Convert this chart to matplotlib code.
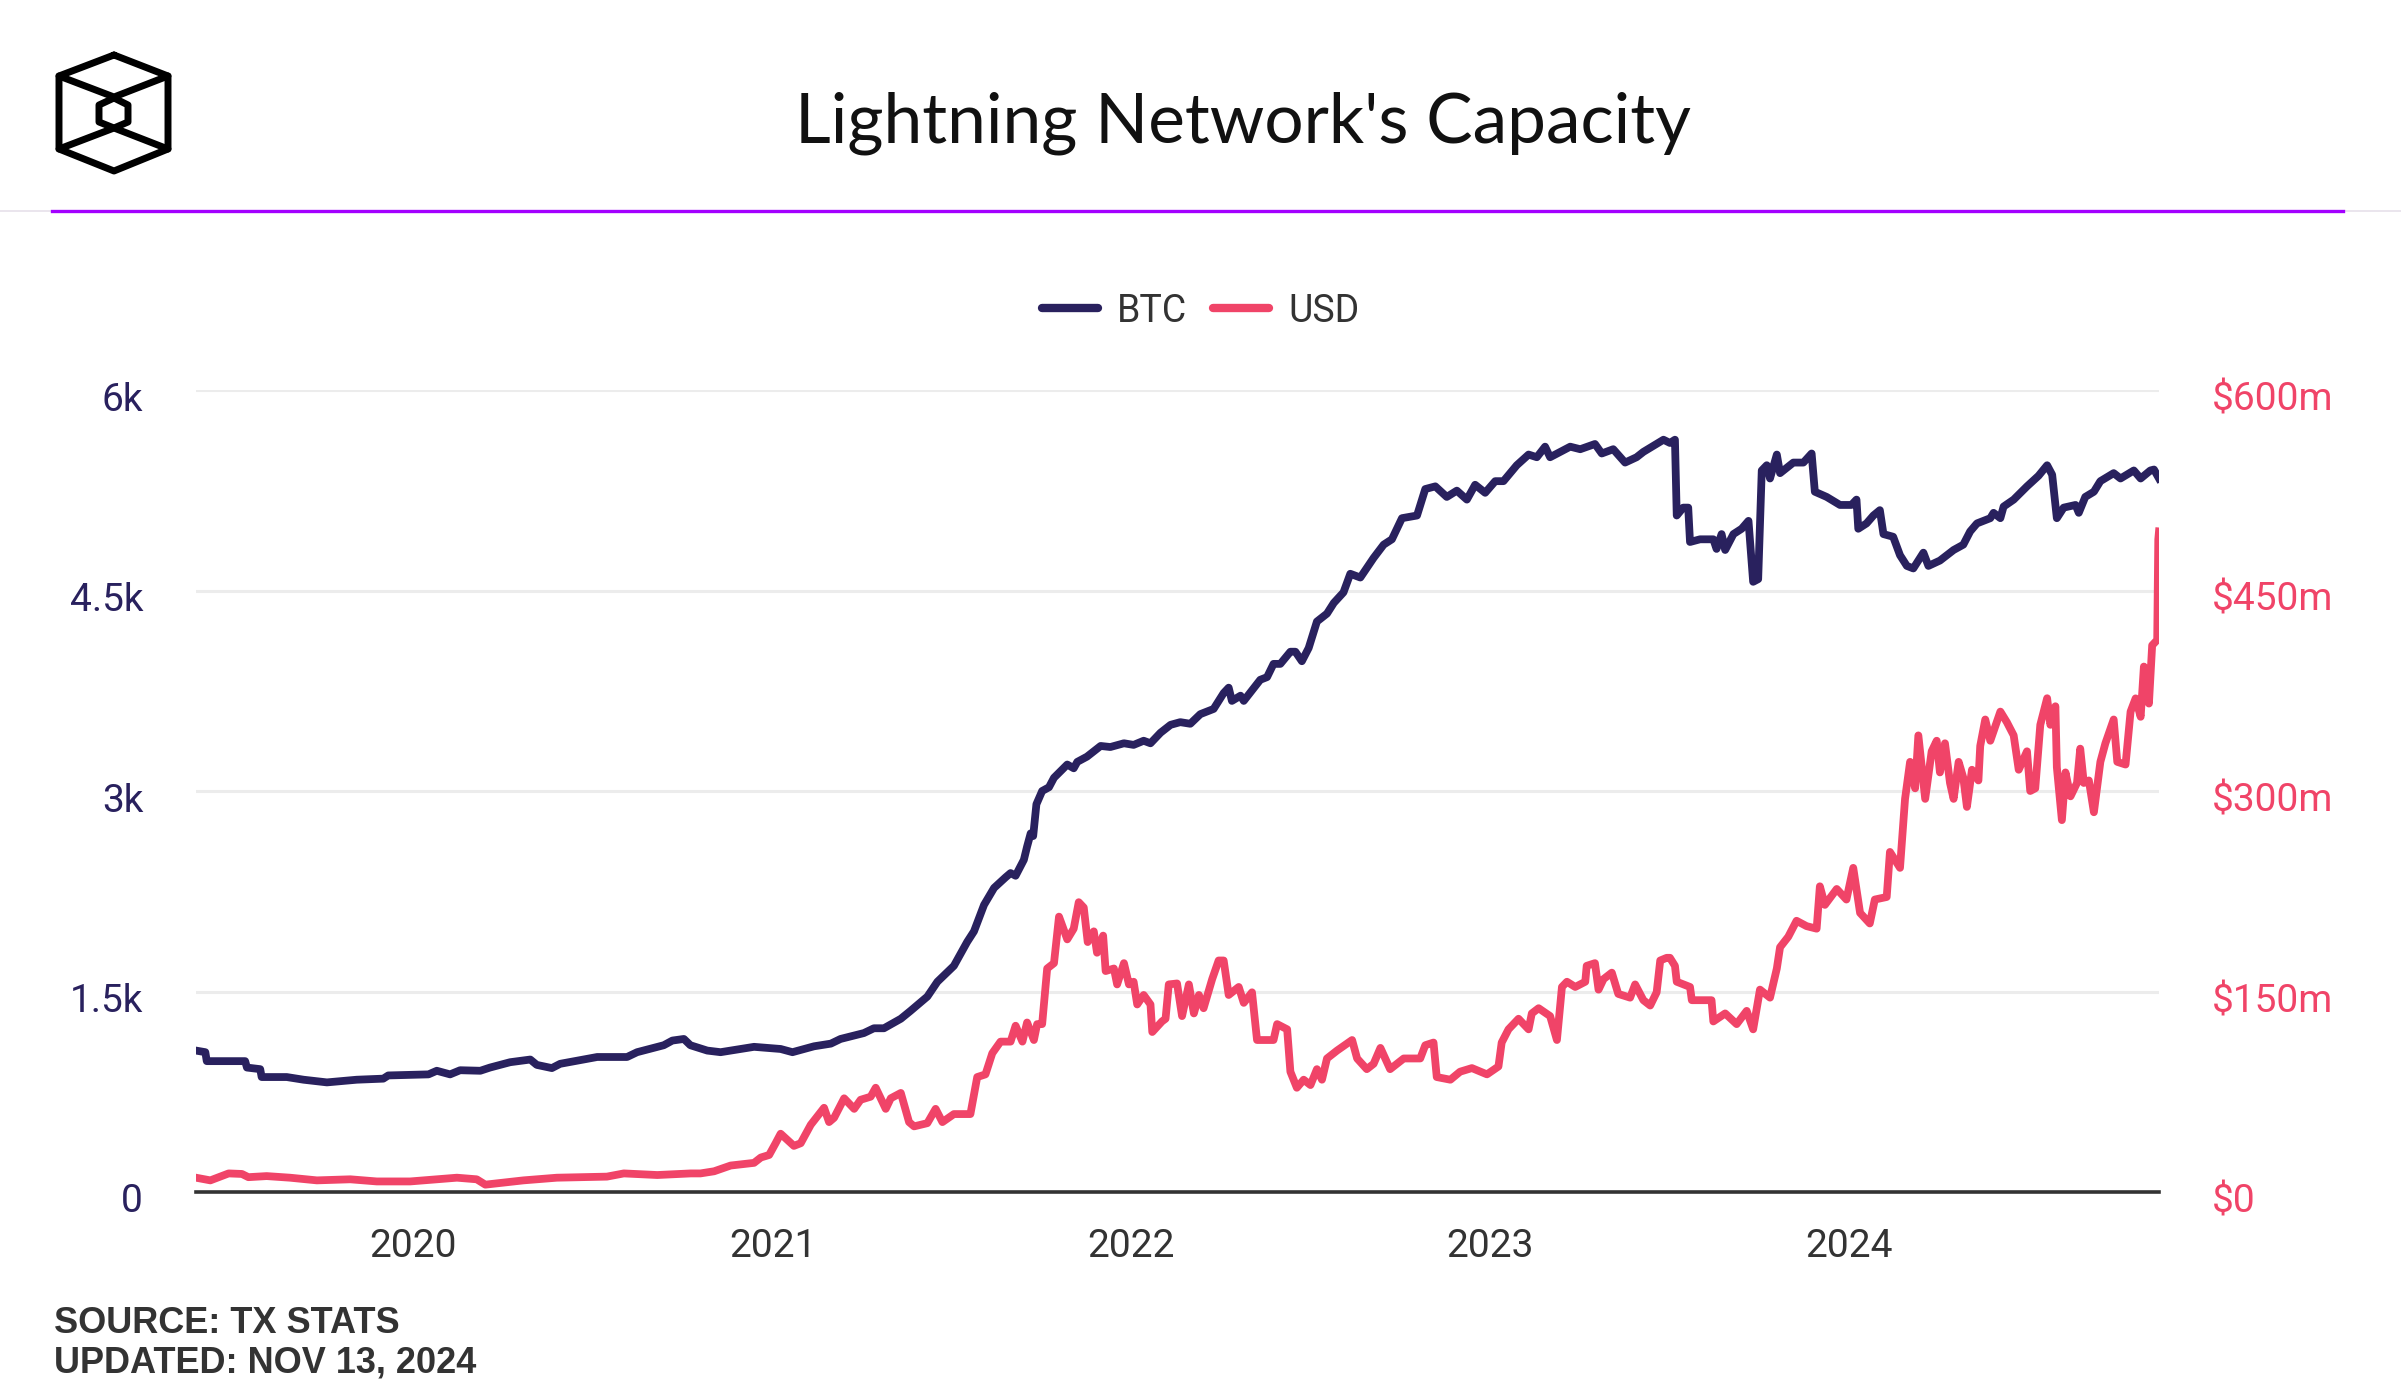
import matplotlib
matplotlib.use("Agg")
import matplotlib.pyplot as plt
from matplotlib.lines import Line2D
from matplotlib.ticker import FuncFormatter
from matplotlib.transforms import ScaledTranslation
import pandas as pd

# Lightning Network capacity (x as decimal year)
btc_t = [2019.395, 2019.421, 2019.425, 2019.532, 2019.537, 2019.574, 2019.578, 2019.648,
         2019.695, 2019.760, 2019.843, 2019.917, 2019.931, 2020.043, 2020.066, 2020.103,
         2020.131, 2020.187, 2020.214, 2020.270, 2020.326, 2020.344, 2020.386, 2020.409,
         2020.512, 2020.595, 2020.623, 2020.697, 2020.721, 2020.753, 2020.771, 2020.818,
         2020.855, 2020.948, 2021.022, 2021.055, 2021.115, 2021.162, 2021.189, 2021.254,
         2021.282, 2021.310, 2021.357, 2021.384, 2021.431, 2021.459, 2021.505, 2021.542,
         2021.561, 2021.589, 2021.617, 2021.649, 2021.663, 2021.677, 2021.700, 2021.709,
         2021.719, 2021.726, 2021.735, 2021.751, 2021.770, 2021.784, 2021.821, 2021.839,
         2021.849, 2021.876, 2021.914, 2021.941, 2021.979, 2022.006, 2022.034, 2022.053,
         2022.081, 2022.109, 2022.136, 2022.164, 2022.192, 2022.229, 2022.257, 2022.271,
         2022.280, 2022.304, 2022.313, 2022.359, 2022.378, 2022.396, 2022.415, 2022.443,
         2022.457, 2022.475, 2022.494, 2022.517, 2022.545, 2022.564, 2022.591, 2022.610,
         2022.638, 2022.675, 2022.703, 2022.726, 2022.754, 2022.796, 2022.819, 2022.847,
         2022.879, 2022.907, 2022.935, 2022.958, 2022.986, 2023.014, 2023.037, 2023.074,
         2023.107, 2023.130, 2023.153, 2023.167, 2023.223, 2023.251, 2023.292, 2023.311,
         2023.343, 2023.376, 2023.408, 2023.427, 2023.483, 2023.501, 2023.515, 2023.520,
         2023.538, 2023.552, 2023.557, 2023.585, 2023.622, 2023.631, 2023.645, 2023.655,
         2023.678, 2023.701, 2023.720, 2023.733, 2023.747, 2023.757, 2023.771, 2023.780,
         2023.799, 2023.808, 2023.845, 2023.873, 2023.896, 2023.905, 2023.938, 2023.975,
         2024.007, 2024.021, 2024.026, 2024.049, 2024.068, 2024.086, 2024.096, 2024.123,
         2024.142, 2024.161, 2024.179, 2024.207, 2024.221, 2024.253, 2024.291, 2024.318,
         2024.337, 2024.356, 2024.393, 2024.402, 2024.421, 2024.430, 2024.458, 2024.495,
         2024.527, 2024.551, 2024.565, 2024.578, 2024.597, 2024.630, 2024.639, 2024.657,
         2024.681, 2024.699, 2024.736, 2024.755, 2024.792, 2024.811, 2024.838, 2024.848,
         2024.862]
btc = [1058, 1046, 979, 979, 931, 919, 860, 860,
       840, 820, 840, 848, 872, 880, 907, 880,
       911, 907, 931, 971, 991, 951, 927, 959,
       1010, 1010, 1046, 1098, 1133, 1145, 1098, 1058,
       1046, 1086, 1070, 1046, 1090, 1110, 1145, 1189,
       1225, 1225, 1296, 1355, 1462, 1573, 1692, 1871,
       1950, 2148, 2275, 2354, 2386, 2366, 2485, 2584,
       2683, 2663, 2901, 3000, 3028, 3099, 3198, 3170,
       3218, 3257, 3337, 3329, 3357, 3345, 3376, 3357,
       3436, 3495, 3515, 3503, 3575, 3614, 3733, 3773,
       3674, 3713, 3674, 3832, 3852, 3951, 3951, 4042,
       4042, 3971, 4070, 4268, 4327, 4407, 4486, 4625,
       4597, 4744, 4843, 4883, 5041, 5061, 5259, 5279,
       5200, 5247, 5180, 5291, 5231, 5318, 5318, 5437,
       5517, 5497, 5576, 5497, 5576, 5557, 5596, 5525,
       5557, 5457, 5497, 5537, 5628, 5604, 5628, 5061,
       5120, 5120, 4863, 4883, 4883, 4811, 4922, 4803,
       4922, 4962, 5021, 4565, 4585, 5398, 5437, 5338,
       5517, 5378, 5457, 5457, 5525, 5239, 5200, 5140,
       5140, 5180, 4962, 5002, 5061, 5101, 4922, 4902,
       4764, 4684, 4665, 4783, 4684, 4724, 4803, 4843,
       4942, 5002, 5041, 5081, 5041, 5128, 5180, 5279,
       5358, 5437, 5366, 5041, 5120, 5140, 5081, 5200,
       5239, 5318, 5378, 5338, 5398, 5338, 5398, 5405,
       5338]

usd_t = [2019.395, 2019.435, 2019.486, 2019.523, 2019.541, 2019.592, 2019.657, 2019.732,
         2019.825, 2019.899, 2019.992, 2020.122, 2020.177, 2020.201, 2020.307, 2020.400,
         2020.539, 2020.586, 2020.679, 2020.772, 2020.799, 2020.837, 2020.883, 2020.948,
         2020.967, 2020.990, 2021.008, 2021.022, 2021.059, 2021.078, 2021.106, 2021.143,
         2021.157, 2021.171, 2021.199, 2021.227, 2021.245, 2021.273, 2021.287, 2021.315,
         2021.329, 2021.357, 2021.380, 2021.394, 2021.431, 2021.454, 2021.473, 2021.505,
         2021.551, 2021.570, 2021.593, 2021.612, 2021.635, 2021.663, 2021.677, 2021.696,
         2021.709, 2021.728, 2021.737, 2021.751, 2021.765, 2021.784, 2021.798, 2021.821,
         2021.839, 2021.853, 2021.867, 2021.878, 2021.895, 2021.904, 2021.921, 2021.928,
         2021.951, 2021.960, 2021.979, 2021.993, 2022.006, 2022.016, 2022.034, 2022.053,
         2022.058, 2022.085, 2022.095, 2022.104, 2022.127, 2022.141, 2022.160, 2022.174,
         2022.188, 2022.201, 2022.225, 2022.243, 2022.257, 2022.271, 2022.299, 2022.313,
         2022.336, 2022.350, 2022.396, 2022.406, 2022.434, 2022.443, 2022.461, 2022.480,
         2022.499, 2022.517, 2022.531, 2022.545, 2022.573, 2022.615, 2022.629, 2022.656,
         2022.675, 2022.694, 2022.721, 2022.759, 2022.805, 2022.819, 2022.842, 2022.851,
         2022.889, 2022.916, 2022.949, 2022.991, 2023.023, 2023.032, 2023.051, 2023.079,
         2023.107, 2023.116, 2023.135, 2023.167, 2023.186, 2023.200, 2023.214, 2023.237,
         2023.265, 2023.269, 2023.292, 2023.302, 2023.316, 2023.339, 2023.357, 2023.390,
         2023.404, 2023.427, 2023.446, 2023.464, 2023.474, 2023.492, 2023.501, 2023.515,
         2023.520, 2023.557, 2023.562, 2023.617, 2023.622, 2023.655, 2023.687, 2023.715,
         2023.733, 2023.752, 2023.780, 2023.799, 2023.808, 2023.831, 2023.854, 2023.882,
         2023.910, 2023.919, 2023.933, 2023.966, 2023.993, 2024.012, 2024.031, 2024.058,
         2024.072, 2024.105, 2024.114, 2024.142, 2024.156, 2024.170, 2024.184, 2024.193,
         2024.212, 2024.230, 2024.244, 2024.253, 2024.267, 2024.281, 2024.291, 2024.305,
         2024.318, 2024.328, 2024.342, 2024.360, 2024.365, 2024.379, 2024.393, 2024.421,
         2024.439, 2024.458, 2024.472, 2024.495, 2024.504, 2024.518, 2024.532, 2024.551,
         2024.560, 2024.574, 2024.578, 2024.592, 2024.602, 2024.616, 2024.634, 2024.643,
         2024.653, 2024.667, 2024.681, 2024.699, 2024.713, 2024.736, 2024.746, 2024.769,
         2024.783, 2024.797, 2024.811, 2024.820, 2024.834, 2024.843, 2024.857, 2024.860,
         2024.862]
usd_m = [10.7, 8.7, 13.9, 13.5, 11.1, 11.9, 10.7, 8.7,
         9.5, 7.9, 7.9, 10.7, 9.5, 5.5, 8.7, 10.7,
         11.5, 13.9, 12.7, 13.9, 13.9, 15.5, 19.8, 21.8,
         25.8, 27.7, 36.5, 43.6, 34.5, 36.5, 50.3, 63.0,
         52.3, 55.5, 70.1, 62.2, 69.0, 71.3, 78.0, 62.2,
         70.1, 74.1, 52.3, 49.1, 51.5, 62.2, 52.3, 58.3,
         58.3, 86.0, 88.0, 103.8, 112.5, 112.5, 124.4, 112.5,
         126.8, 113.7, 125.6, 125.6, 167.2, 171.2, 206.0, 189.0,
         197.0, 216.8, 212.8, 187.0, 195.0, 179.0, 191.8, 165.3,
         167.2, 155.3, 171.2, 155.3, 157.3, 140.3, 147.4, 140.3,
         119.7, 127.6, 129.6, 155.3, 156.0, 131.6, 155.3, 133.6,
         147.4, 137.5, 159.3, 173.2, 173.2, 147.4, 153.4, 141.5,
         149.4, 113.7, 113.7, 125.6, 121.7, 90.0, 78.0, 84.0,
         80.0, 91.9, 84.0, 99.9, 105.8, 113.7, 99.9, 91.9,
         95.9, 107.8, 91.9, 99.9, 99.9, 109.8, 111.8, 86.0,
         84.0, 90.0, 92.7, 88.0, 93.9, 111.8, 121.7, 129.6,
         121.7, 133.6, 137.5, 131.6, 113.7, 153.4, 157.3, 153.4,
         157.3, 169.2, 171.2, 151.4, 159.3, 164.1, 148.2, 145.4,
         155.3, 143.5, 139.5, 149.4, 173.2, 175.2, 175.2, 169.2,
         157.3, 153.4, 143.5, 143.5, 127.6, 133.6, 125.6, 135.5,
         121.7, 151.4, 145.4, 167.2, 183.1, 191.0, 202.9, 198.9,
         197.0, 228.7, 214.8, 226.7, 218.8, 242.5, 208.8, 200.9,
         218.8, 220.7, 254.4, 242.5, 294.1, 321.8, 302.0, 341.6,
         294.1, 329.7, 337.6, 313.9, 335.7, 306.0, 294.1, 321.8,
         309.9, 288.1, 315.9, 307.9, 333.7, 353.5, 337.6, 359.4,
         351.5, 341.6, 315.9, 329.7, 300.0, 302.0, 349.5, 369.4,
         349.5, 363.4, 317.8, 278.2, 313.9, 296.0, 306.0, 331.7,
         306.0, 307.9, 284.1, 321.8, 335.7, 353.5, 321.8, 319.8,
         359.4, 369.3, 355.5, 393.1, 365.4, 409.0, 413.0, 488.2,
         494.2]

btc_ticks = [0, 1500, 3000, 4500, 6000]
usd_ticks = [0, 150, 300, 450, 600]
years = [2020, 2021, 2022, 2023, 2024]

NAVY = "#29215e"
PINK = "#f04468"
PURPLE = "#a300ff"


def to_date(y):
    yr = int(y)
    start = pd.Timestamp(yr, 1, 1)
    return start + (pd.Timestamp(yr + 1, 1, 1) - start) * (y - yr)


btc_dates = [to_date(v) for v in btc_t]
usd_dates = [to_date(v) for v in usd_t]

W, H = 2401, 1400
fig = plt.figure(figsize=(W / 100, H / 100), dpi=100)

ax = fig.add_axes([196 / W, 1 - 1192 / H, (2159 - 196) / W, (1192 - 390) / H])
ax2 = ax.twinx()

ax.plot(btc_dates, btc, color=NAVY, lw=5.6, solid_joinstyle="round", zorder=3)
ax2.plot(usd_dates, usd_m, color=PINK, lw=5.6, solid_joinstyle="round", zorder=3)

ax.set_xlim(btc_dates[0], btc_dates[-1])
ax.set_ylim(0, 6000)
ax2.set_ylim(0, 600)
ax.set_yticks(btc_ticks)
ax2.set_yticks(usd_ticks)
ax.yaxis.set_major_formatter(FuncFormatter(lambda v, p: "0" if v == 0 else f"{v / 1000:g}k"))
ax2.yaxis.set_major_formatter(FuncFormatter(lambda v, p: "$0" if v == 0 else f"${v:g}m"))
ax.set_xticks([pd.Timestamp(y, 1, 1) for y in years])
ax.set_xticklabels([str(y) for y in years])

ax.grid(axis="y", color="#ececec", lw=2.2, zorder=0)
ax.set_axisbelow(True)
for a in (ax, ax2):
    for s in ("top", "left", "right", "bottom"):
        a.spines[s].set_visible(False)
ax.axhline(0, color="#333333", lw=2.6, zorder=4, clip_on=False)

ax.tick_params(axis="x", length=0, pad=26, labelsize=28, labelcolor="#333333")
ax.tick_params(axis="y", length=0, pad=38, labelsize=28, labelcolor=NAVY)
ax2.tick_params(axis="y", length=0, pad=38, labelsize=28, labelcolor=PINK)
for lab in ax.get_xticklabels() + ax.get_yticklabels() + ax2.get_yticklabels():
    lab.set_fontfamily("Roboto")

# y labels sit a little below their gridlines in the original
shift = ScaledTranslation(0, -6 / 100, fig.dpi_scale_trans)
for tick in ax.yaxis.get_major_ticks():
    tick.label1.set_transform(tick.label1.get_transform() + shift)
for tick in ax2.yaxis.get_major_ticks():
    tick.label2.set_transform(tick.label2.get_transform() + shift)

# legend
handles = [Line2D([], [], color=NAVY, lw=6, solid_capstyle="round"),
           Line2D([], [], color=PINK, lw=6, solid_capstyle="round")]
fig.legend(handles, ["BTC", "USD"], loc="center", bbox_to_anchor=(0.5, 1 - 311 / H),
           ncol=2, frameon=False, handlelength=1.5, handletextpad=0.5, columnspacing=0.7,
           prop={"family": "Roboto", "size": 27}, labelcolor="#333333")

# header / footer decorations in pixel space
deco = fig.add_axes([0, 0, 1, 1], zorder=-1)
deco.set_xlim(0, W)
deco.set_ylim(H, 0)
deco.axis("off")
deco.plot([0, W], [211, 211], color="#e6e0ea", lw=1.2)
deco.plot([52, 2343], [211, 211], color=PURPLE, lw=2.4)

logo_kw = dict(color="black", lw=5, solid_joinstyle="round", solid_capstyle="round")
outer = [(114, 55), (168, 76), (168, 149), (114, 171), (59, 149), (59, 76), (114, 55)]
inner = [(114, 98), (128, 105), (128, 122), (114, 128), (99, 122), (99, 105), (114, 98)]
deco.plot([p[0] for p in outer], [p[1] for p in outer], **logo_kw)
deco.plot([p[0] for p in inner], [p[1] for p in inner], **logo_kw)
deco.plot([59, 114, 168], [76, 97, 76], **logo_kw)
deco.plot([59, 114, 168], [149, 128, 149], **logo_kw)

fig.text(1243 / W, 1 - 123 / H, "Lightning Network's Capacity", ha="center", va="center",
         fontsize=50, family="Lato", color="#111111")
fig.text(54 / W, 1 - 1333 / H, "SOURCE: TX STATS", ha="left", va="baseline",
         fontsize=26, family="Liberation Sans", weight="bold", color="#333333")
fig.text(54 / W, 1 - 1373 / H, "UPDATED: NOV 13, 2024", ha="left", va="baseline",
         fontsize=26, family="Liberation Sans", weight="bold", color="#333333")

fig.savefig("out.png", dpi=100, facecolor="white")
